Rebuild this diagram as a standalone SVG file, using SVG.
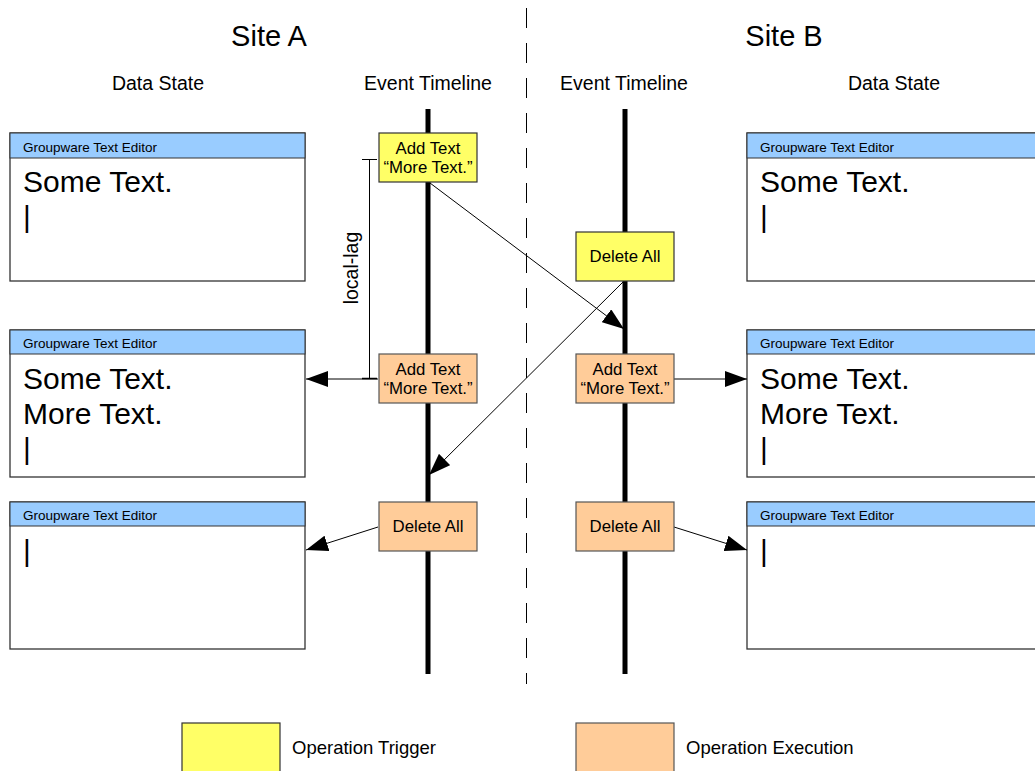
<svg xmlns="http://www.w3.org/2000/svg" width="1035" height="771" viewBox="0 0 1035 771">
<defs>
<style>
text{font-family:"Liberation Sans",Arial,sans-serif;fill:#000}
.title{font-size:29px;text-anchor:middle}
.col{font-size:19.5px;text-anchor:middle}
.hdr{font-size:13.5px}
.big{font-size:30px}
.op{font-size:16.8px;text-anchor:middle}
.leg{font-size:18.5px}
.frame{fill:#fff;stroke:#333;stroke-width:1.3}
.bar{fill:#99ccff;stroke:#333;stroke-width:1}
.trig{fill:#ffff66;stroke:#333;stroke-width:1.2}
.exec{fill:#ffcc99;stroke:#555;stroke-width:1.2}
.tl{stroke:#000;stroke-width:5}
.conn{stroke:#000;stroke-width:1;fill:none}
</style>
<marker id="ah" viewBox="0 0 22 16" refX="22" refY="8" markerWidth="22" markerHeight="16" markerUnits="userSpaceOnUse" orient="auto">
<path d="M0,0 L22,8 L0,16 Z" fill="#000"/>
</marker>
</defs>
<rect width="1035" height="771" fill="#fff"/>

<g id="headings">
<text class="title" x="269" y="46">Site A</text>
<text class="title" x="784" y="46">Site B</text>
<text class="col" x="158" y="90">Data State</text>
<text class="col" x="428" y="90">Event Timeline</text>
<text class="col" x="624" y="90">Event Timeline</text>
<text class="col" x="894" y="90">Data State</text>
</g>

<g id="divider">
<line x1="526.5" y1="8" x2="526.5" y2="684" stroke="#000" stroke-width="1" stroke-dasharray="20,15"/>
</g>

<g id="timelines">
<line class="tl" x1="428" y1="109" x2="428" y2="674"/>
<line class="tl" x1="625" y1="109" x2="625" y2="674"/>
</g>

<g id="editorA1">
<rect class="frame" x="10" y="133" width="295" height="148"/>
<rect class="bar" x="10" y="133" width="295" height="25"/>
<text class="hdr" x="23" y="152">Groupware Text Editor</text>
<text class="big" x="23" y="192">Some Text.</text>
<text class="big" x="23" y="227">|</text>
</g>
<g id="editorA2">
<rect class="frame" x="10" y="330" width="295" height="147"/>
<rect class="bar" x="10" y="330" width="295" height="24"/>
<text class="hdr" x="23" y="348">Groupware Text Editor</text>
<text class="big" x="23" y="389">Some Text.</text>
<text class="big" x="23" y="424">More Text.</text>
<text class="big" x="23" y="459">|</text>
</g>
<g id="editorA3">
<rect class="frame" x="10" y="502" width="295" height="147"/>
<rect class="bar" x="10" y="502" width="295" height="24"/>
<text class="hdr" x="23" y="520">Groupware Text Editor</text>
<text class="big" x="23" y="561">|</text>
</g>

<g id="editorB1">
<rect class="frame" x="747" y="133" width="295" height="148"/>
<rect class="bar" x="747" y="133" width="295" height="25"/>
<text class="hdr" x="760" y="152">Groupware Text Editor</text>
<text class="big" x="760" y="192">Some Text.</text>
<text class="big" x="760" y="227">|</text>
</g>
<g id="editorB2">
<rect class="frame" x="747" y="330" width="295" height="147"/>
<rect class="bar" x="747" y="330" width="295" height="24"/>
<text class="hdr" x="760" y="348">Groupware Text Editor</text>
<text class="big" x="760" y="389">Some Text.</text>
<text class="big" x="760" y="424">More Text.</text>
<text class="big" x="760" y="459">|</text>
</g>
<g id="editorB3">
<rect class="frame" x="747" y="502" width="295" height="147"/>
<rect class="bar" x="747" y="502" width="295" height="24"/>
<text class="hdr" x="760" y="520">Groupware Text Editor</text>
<text class="big" x="760" y="561">|</text>
</g>

<g id="connectors">
<line class="conn" x1="430" y1="183" x2="624" y2="329" marker-end="url(#ah)"/>
<line class="conn" x1="623" y1="282" x2="429" y2="475" marker-end="url(#ah)"/>
<line class="conn" x1="378" y1="379" x2="306" y2="379" marker-end="url(#ah)"/>
<line class="conn" x1="674" y1="379" x2="747" y2="379" marker-end="url(#ah)"/>
<line class="conn" x1="378" y1="527" x2="306" y2="550" marker-end="url(#ah)"/>
<line class="conn" x1="674" y1="527" x2="747" y2="550" marker-end="url(#ah)"/>
</g>

<g id="locallag">
<line x1="369.5" y1="159" x2="369.5" y2="378" stroke="#000" stroke-width="1"/>
<line x1="362" y1="159.5" x2="377" y2="159.5" stroke="#000" stroke-width="1"/>
<line x1="362" y1="378.5" x2="377" y2="378.5" stroke="#000" stroke-width="1.5"/>
<text class="col" transform="translate(358,268) rotate(-90)" x="0" y="0">local-lag</text>
</g>

<g id="opA1">
<rect class="trig" x="379" y="133" width="98" height="49"/>
<text class="op" x="428" y="154">Add Text</text>
<text class="op" x="428" y="173">“More Text.”</text>
</g>
<g id="opB1">
<rect class="trig" x="576" y="232" width="98" height="49"/>
<text class="op" x="625" y="262">Delete All</text>
</g>
<g id="opA2">
<rect class="exec" x="379" y="354" width="98" height="49"/>
<text class="op" x="428" y="375">Add Text</text>
<text class="op" x="428" y="394">“More Text.”</text>
</g>
<g id="opB2">
<rect class="exec" x="576" y="354" width="98" height="49"/>
<text class="op" x="625" y="375">Add Text</text>
<text class="op" x="625" y="394">“More Text.”</text>
</g>
<g id="opA3">
<rect class="exec" x="379" y="502" width="98" height="49"/>
<text class="op" x="428" y="532">Delete All</text>
</g>
<g id="opB3">
<rect class="exec" x="576" y="502" width="98" height="49"/>
<text class="op" x="625" y="532">Delete All</text>
</g>

<g id="legend">
<rect class="trig" x="182" y="723" width="98" height="52"/>
<text class="leg" x="292" y="754">Operation Trigger</text>
<rect class="exec" x="576" y="723" width="98" height="52"/>
<text class="leg" x="686" y="754">Operation Execution</text>
</g>
</svg>
